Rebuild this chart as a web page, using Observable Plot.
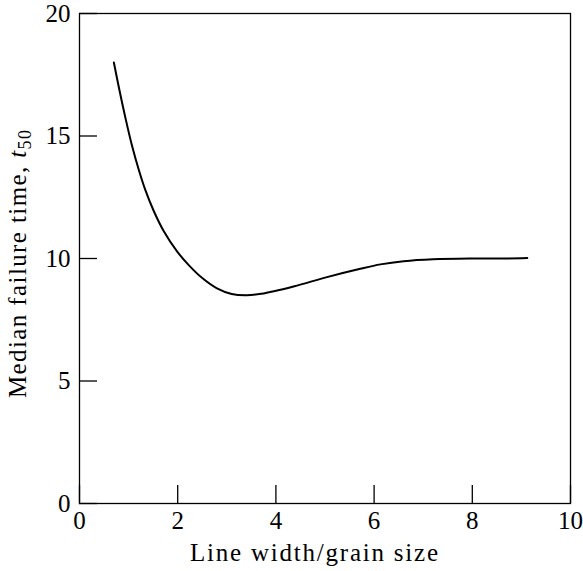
<!DOCTYPE html>
<html><head><meta charset="utf-8">
<script src="https://cdn.jsdelivr.net/npm/d3@7"></script>
<script src="https://cdn.jsdelivr.net/npm/@observablehq/plot@0.6"></script>
<style>body{margin:0;background:#fff}</style>
</head><body><div id="chart"></div>
<script>
const ratio = [0.7, 0.8, 0.94, 1.07, 1.21, 1.34, 1.51, 1.72, 1.99, 2.23, 2.5, 2.8, 3.1, 3.4, 3.7, 4.36, 5.04, 5.72, 6.13, 6.6, 7.2, 8.0, 8.6, 9.12];
const t50 = [18.0, 17.0, 15.7, 14.6, 13.6, 12.8, 11.95, 11.1, 10.28, 9.72, 9.2, 8.78, 8.55, 8.5, 8.56, 8.86, 9.24, 9.58, 9.76, 9.89, 9.97, 10.0, 10.0, 10.02];
const xTicks = [0, 2, 4, 6, 8, 10];
const yTicks = [0, 5, 10, 15, 20];
const xLabel = "Line width/grain size";
const yLabelMain = "Median failure time, ";
const yLabelVar = "t";
const yLabelSub = "50";

const data = ratio.map((x, i) => ({x, y: t50[i]}));
const font = "'Liberation Serif', 'DejaVu Serif', serif";

const chart = Plot.plot({
  width: 583, height: 571,
  marginLeft: 79, marginRight: 13, marginTop: 13, marginBottom: 68,
  style: {fontFamily: font, fontSize: "25px", background: "white", color: "black", overflow: "visible"},
  x: {domain: [0, 10]},
  y: {domain: [0, 20]},
  marks: [
    Plot.frame({stroke: "black", strokeWidth: 1.3}),
    Plot.axisX({ticks: xTicks, tickSize: -18, text: null, label: null, strokeWidth: 1.3}),
    Plot.axisX({ticks: xTicks, tickSize: 0, tickPadding: 8, label: null, fontSize: 25}),
    Plot.axisY({ticks: yTicks, tickSize: -18, text: null, label: null, strokeWidth: 1.3}),
    Plot.axisY({ticks: yTicks, tickSize: 0, tickPadding: 9, label: null, fontSize: 25}),
    Plot.line(data, {x: "x", y: "y", curve: "catmull-rom", stroke: "black", strokeWidth: 2})
  ]
});

const svg = d3.select(chart);
svg.append("text")
  .attr("font-family", font)
  .attr("font-size", 25)
  .attr("text-anchor", "middle")
  .attr("fill", "black")
  .attr("transform", "translate(26,264) rotate(-90)")
  .attr("textLength", 268)
  .attr("lengthAdjust", "spacing")
  .call(t => {
    t.append("tspan").text(yLabelMain);
    t.append("tspan").attr("font-style", "italic").text(yLabelVar);
    t.append("tspan").attr("font-size", 18).attr("dy", "0.3em").text(yLabelSub);
  });
svg.append("text")
  .attr("font-family", font)
  .attr("font-size", 25)
  .attr("text-anchor", "middle")
  .attr("fill", "black")
  .attr("x", 314)
  .attr("y", 561)
  .attr("textLength", 248)
  .attr("lengthAdjust", "spacing")
  .text(xLabel);

document.getElementById("chart").appendChild(chart);
</script>
</body></html>
